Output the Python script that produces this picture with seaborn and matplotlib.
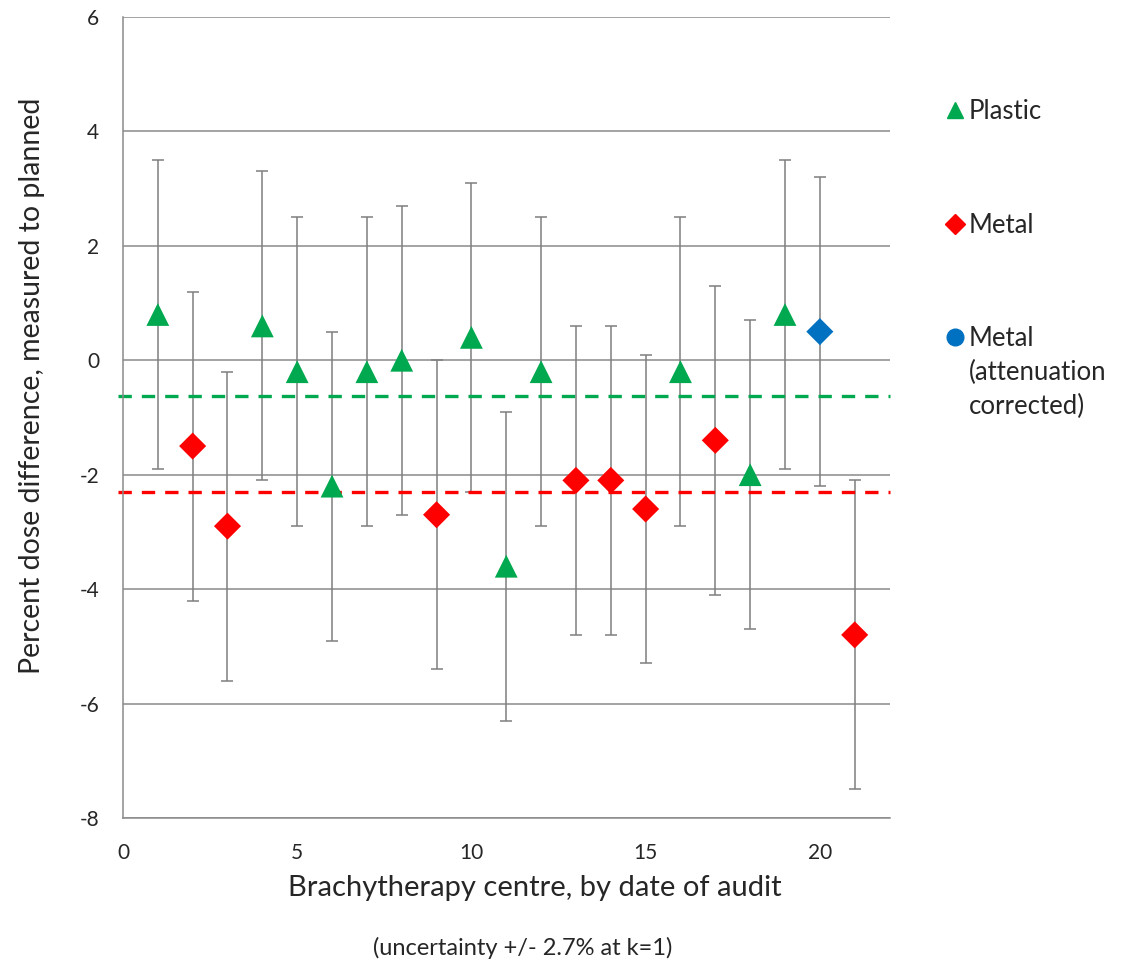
import numpy as np
import pandas as pd
import matplotlib
matplotlib.use("Agg")
import matplotlib.pyplot as plt
from matplotlib.lines import Line2D
import seaborn as sns

# --- data ---
plastic_centre = [1, 4, 5, 6, 7, 8, 10, 11, 12, 16, 18, 19]
plastic_diff = [0.8, 0.6, -0.2, -2.2, -0.2, 0.0, 0.4, -3.6, -0.2, -0.2, -2.0, 0.8]
metal_centre = [2, 3, 9, 13, 14, 15, 17, 21]
metal_diff = [-1.5, -2.9, -2.7, -2.1, -2.1, -2.6, -1.4, -4.8]
corrected_centre = [20]
corrected_diff = [0.5]
uncertainty = 2.7          # +/- 2.7% at k=1
plastic_mean = -0.62
metal_mean = -2.3

x_ticks = [0, 5, 10, 15, 20]
y_ticks = [-8, -6, -4, -2, 0, 2, 4, 6]

GREEN = "#00A94F"
RED = "#FF0000"
BLUE = "#0070C0"
GRID = "#8A8A8A"

df = pd.DataFrame({
    "centre": plastic_centre + metal_centre + corrected_centre,
    "diff": plastic_diff + metal_diff + corrected_diff,
    "group": (["Plastic"] * len(plastic_centre) + ["Metal"] * len(metal_centre)
              + ["Metal corrected"] * len(corrected_centre)),
})

sns.set_style("white")
plt.rcParams["font.family"] = ["Lato", "DejaVu Sans"]
plt.rcParams["axes.unicode_minus"] = False

fig = plt.figure(figsize=(11.26, 9.64), dpi=100)
ax = fig.add_axes([0.1092, 0.1515, 0.6808, 0.8309])

# error bars first, so markers sit on top
ax.errorbar(df["centre"], df["diff"], yerr=uncertainty, fmt="none",
            ecolor="#7F7F7F", elinewidth=1.1, capsize=4.5, capthick=1.1, zorder=2)

sns.scatterplot(data=df, x="centre", y="diff", hue="group", style="group", size="group",
                palette={"Plastic": GREEN, "Metal": RED, "Metal corrected": BLUE},
                markers={"Plastic": "^", "Metal": "D", "Metal corrected": "D"},
                sizes={"Plastic": 270, "Metal": 190, "Metal corrected": 190},
                linewidth=0, legend=False, ax=ax, zorder=3)

# mean lines
ax.hlines([plastic_mean, metal_mean], -0.15, 22, colors=[GREEN, RED], lw=2.4,
          linestyles=[(0, (4, 3))], clip_on=False, zorder=2.5)

ax.set_xlim(0, 22)
ax.set_ylim(-8, 6)
ax.set_xticks(x_ticks)
ax.set_yticks(y_ticks)
ax.grid(axis="y", color=GRID, lw=1.1)
ax.grid(axis="x", visible=False)
ax.set_axisbelow(True)
for side in ["top", "right"]:
    ax.spines[side].set_visible(False)
for side in ["left", "bottom"]:
    ax.spines[side].set_color(GRID)
    ax.spines[side].set_linewidth(1.1)
ax.tick_params(axis="y", length=5, color=GRID, pad=12, labelsize=15)
ax.tick_params(axis="x", length=0, pad=18, labelsize=15)
ax.set_xlabel("")
ax.set_ylabel("")

fig.text(32 / 1126, 1 - 386 / 964, "Percent dose difference, measured to planned",
         rotation=90, ha="center", va="center", fontsize=20.5)
fig.text(535 / 1126, 1 - 888 / 964, "Brachytherapy centre, by date of audit",
         ha="center", va="center", fontsize=21)
fig.text(523 / 1126, 1 - 948 / 964, "(uncertainty +/- 2.7% at k=1)",
         ha="center", va="center", fontsize=17)

# legend
handles = [
    Line2D([], [], ls="none", marker="^", ms=12, color=GREEN),
    Line2D([], [], ls="none", marker="D", ms=10, color=RED),
    Line2D([], [], ls="none", marker="o", ms=12, color=BLUE),
]
leg = fig.legend(handles, ["Plastic", "Metal", "Metal"], loc="upper left",
                 bbox_to_anchor=(0.839, 0.897), frameon=False, fontsize=18.5,
                 borderpad=0, borderaxespad=0,
                 labelspacing=3.44, handlelength=0.8, handletextpad=0.15)
fig.canvas.draw()
bb = leg.get_texts()[2].get_window_extent().transformed(fig.transFigure.inverted())
metal_y = (bb.y0 + bb.y1) / 2
for i, line in enumerate(["(attenuation", "corrected)"]):
    fig.text(bb.x0, metal_y - (i + 1) * 34 / 964, line, ha="left", va="center",
             fontsize=18.5)

fig.savefig("out.png", dpi=100)
